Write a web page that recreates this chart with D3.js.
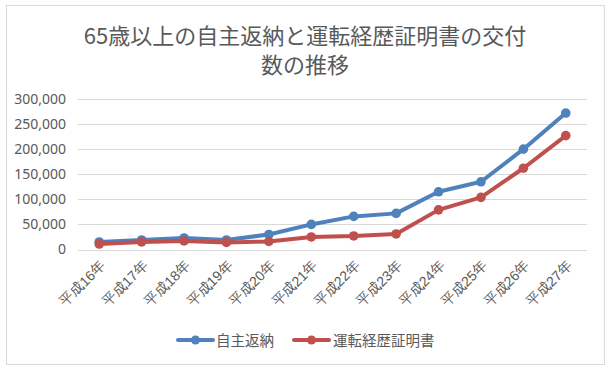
<!DOCTYPE html>
<html><head><meta charset="utf-8">
<script src="https://cdn.jsdelivr.net/npm/d3@7/dist/d3.min.js"></script>
<style>body{margin:0;background:#fff;}svg{display:block;font-family:"Noto Sans CJK JP","Noto Sans",sans-serif;}</style>
</head><body>
<svg id="c" width="613" height="372"></svg>
<script>
const categories = ["平成16年","平成17年","平成18年","平成19年","平成20年","平成21年","平成22年","平成23年","平成24年","平成25年","平成26年","平成27年"];
const seriesNames = ["自主返納","運転経歴証明書"];
const titleLines = ["65歳以上の自主返納と運転経歴証明書の交付","数の推移"];
const returnVals = [15000, 19000, 23000, 19000, 30000, 50000, 66000, 72000, 115000, 135000, 200000, 272000];
const certVals = [11000, 15000, 17000, 14000, 16000, 25000, 27000, 31000, 79000, 104000, 162000, 227000];
const yTicks = [0, 50000, 100000, 150000, 200000, 250000, 300000];
const colors = ["#4f81bd", "#c0504d"];

const svg = d3.select("#c");
svg.append("rect").attr("x",6.5).attr("y",5.5).attr("width",598).attr("height",359)
  .attr("fill","#fff").attr("stroke","#d9d9d9").attr("stroke-width",1);

const L=78, R=587, T=99, B=249.5;
const x = d3.scaleBand().domain(categories).range([L,R]);
const y = d3.scaleLinear().domain([0,300000]).range([B,T]);

// title (two separate lines)
svg.append("g").selectAll("text").data(titleLines).join("text")
  .attr("x",305).attr("y",(d,i)=>44+i*29)
  .attr("text-anchor","middle").attr("fill","#595959").attr("font-size","22px")
  .text(d=>d);

// gridlines
svg.append("g").selectAll("line").data(yTicks).join("line")
  .attr("x1",L).attr("x2",R).attr("y1",d=>Math.round(y(d))+0.5).attr("y2",d=>Math.round(y(d))+0.5)
  .attr("stroke","#d9d9d9").attr("stroke-width",1);

// y axis labels
const yAxis = d3.axisLeft(y).tickValues(yTicks).tickSize(0).tickPadding(0).tickFormat(d3.format(","));
const ya = svg.append("g").attr("transform",`translate(${L-12},0)`).call(yAxis);
ya.select(".domain").remove();
ya.selectAll("text").attr("fill","#595959").attr("font-size","14px").attr("font-family",'"Noto Sans","Noto Sans CJK JP",sans-serif');

// x axis labels
const xAxis = d3.axisBottom(x).tickSize(0).tickPadding(0);
const xa = svg.append("g").attr("transform",`translate(0,${B})`).call(xAxis);
xa.select(".domain").remove();
xa.selectAll("text").attr("fill","#595959").attr("font-size","14px")
  .attr("text-anchor","end").attr("dy",null).attr("y",0)
  .attr("transform","translate(7,17) rotate(-45)");

// lines
const line = d3.line().x((d,i)=>x(categories[i])+x.bandwidth()/2).y(d=>y(d));
[returnVals, certVals].forEach((vals,k)=>{
  svg.append("path").datum(vals).attr("d",line).attr("fill","none")
    .attr("stroke",colors[k]).attr("stroke-width",4).attr("stroke-linejoin","round").attr("stroke-linecap","round");
  svg.append("g").selectAll("circle").data(vals).join("circle")
    .attr("cx",(d,i)=>x(categories[i])+x.bandwidth()/2).attr("cy",d=>y(d)).attr("r",4.8)
    .attr("fill",colors[k]);
});

// legend
const lg = svg.append("g");
const items = [{x:178, tx:216},{x:294, tx:333}];
seriesNames.forEach((n,k)=>{
  const it = items[k];
  lg.append("line").attr("x1",it.x).attr("x2",it.x+35).attr("y1",340).attr("y2",340)
    .attr("stroke",colors[k]).attr("stroke-width",4).attr("stroke-linecap","round");
  lg.append("circle").attr("cx",it.x+17.5).attr("cy",340).attr("r",4.5).attr("fill",colors[k]);
  lg.append("text").attr("x",it.tx).attr("y",345.5).attr("fill","#595959").attr("font-size","14.5px").text(n);
});
</script>
</body></html>
